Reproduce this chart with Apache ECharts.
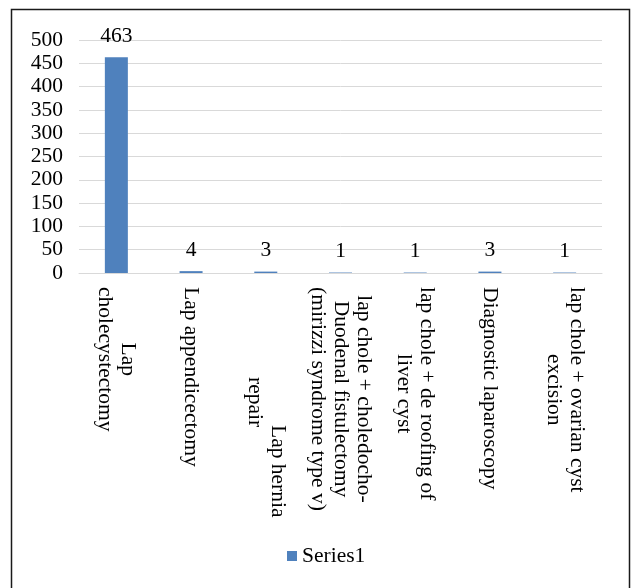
<!DOCTYPE html>
<html>
<head>
<meta charset="utf-8">
<title>Series1</title>
<script src="https://cdn.jsdelivr.net/npm/echarts@6/dist/echarts.min.js"></script>
<style>
	html,body{margin:0;padding:0;background:#fff;}
	#chart{width:633px;height:588px;}
</style>
</head>
<body>
<div id="chart"></div>
<script>
'use strict';
// data
var categories = [
	'Lap\ncholecystectomy',
	'Lap appendicectomy',
	'Lap hernia\nrepair',
	'lap chole + choledocho-\nDuodenal fistulectomy\n(mirizzi syndrome type v)',
	'lap chole + de roofing of\nliver cyst',
	'Diagnostic laparoscopy',
	'lap chole + ovarian cyst\nexcision'
];
var series1 = [463, 4, 3, 1, 1, 3, 1];
var yTicks = [0, 50, 100, 150, 200, 250, 300, 350, 400, 450, 500];

var FONT = '"Liberation Serif", "Times New Roman", serif';
var SIZE = 21.5;

var Page = {
	init: function(){
		var myChart = echarts.init(document.getElementById('chart'));
		myChart.setOption(Page.option());
	},
	// each line becomes a centred token so wrapped labels line up like excel
	label: function(value, index){
		var lines = value.split('\n');
		if(index === 2){
			//excel pushed this one down the axis
			return '{h1|' + lines[0] + '}\n{h2|' + lines[1] + '}';
		}
		return lines.map(function(l){ return '{c|' + l + '}'; }).join('\n');
	},
	option: function(){
		var txt = {fontFamily: FONT, fontSize: SIZE, color: '#000', lineHeight: 23};
		return {
			animation: false,
			backgroundColor: '#fff',
			textStyle: {fontFamily: FONT},
			graphic: [{
				type: 'rect',
				shape: {x: 11.5, y: 9.5, width: 618, height: 610},
				style: {fill: 'none', stroke: '#1a1a1a', lineWidth: 1.5},
				silent: true
			}],
			grid: {left: 79, right: 31, top: 40, bottom: 315, containLabel: false},
			legend: {
				left: 287,
				top: 545,
				padding: 0,
				icon: 'rect',
				itemWidth: 10,
				itemHeight: 10,
				itemGap: 10,
				textStyle: {fontFamily: FONT, fontSize: SIZE, color: '#000'},
				data: ['Series1']
			},
			xAxis: {
				type: 'category',
				data: categories,
				axisLine: {lineStyle: {color: '#d9d9d9', width: 1}},
				axisTick: {show: false},
				axisLabel: {
					interval: 0,
					rotate: -90,
					margin: 14,
					formatter: Page.label,
					rich: {
						c: Object.assign({align: 'center'}, txt),
						h1: Object.assign({align: 'left', padding: [0, 0, 0, 138]}, txt),
						h2: Object.assign({align: 'left', padding: [0, 0, 0, 90]}, txt)
					}
				}
			},
			yAxis: {
				type: 'value',
				min: yTicks[0],
				max: yTicks[yTicks.length - 1],
				interval: yTicks[1] - yTicks[0],
				axisLine: {show: false},
				axisTick: {show: false},
				axisLabel: {margin: 16, fontFamily: FONT, fontSize: SIZE, color: '#000'},
				splitLine: {lineStyle: {color: '#d9d9d9', width: 1}}
			},
			series: [{
				name: 'Series1',
				type: 'bar',
				data: series1,
				barWidth: 23,
				itemStyle: {color: '#4f81bd'},
				label: {
					show: true,
					position: 'top',
					distance: 10,
					fontFamily: FONT,
					fontSize: SIZE,
					color: '#000'
				}
			}]
		};
	}
};

Page.init();
</script>
</body>
</html>
